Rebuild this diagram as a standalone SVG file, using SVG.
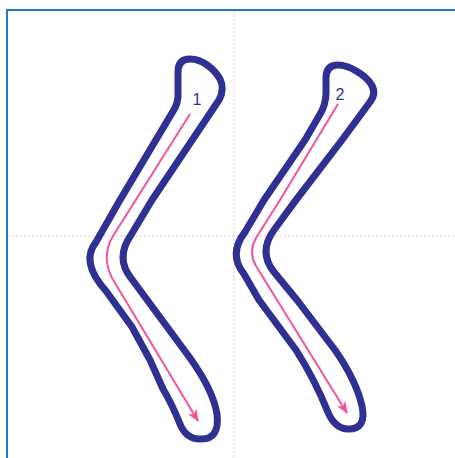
<svg xmlns="http://www.w3.org/2000/svg" width="455" height="458" viewBox="0 0 455 458">
<style>
.frame{fill:none;stroke:#1f7bc4;stroke-width:2}
.guide{fill:none;stroke:#f7b6cf;stroke-width:1;stroke-dasharray:2 2}
.outline{fill:none;stroke:#2e3192;stroke-width:7;stroke-linejoin:round}
.flow{fill:none;stroke:#f0559c;stroke-width:2;marker-end:url(#arrow)}
.num{font-family:"Liberation Sans",Arial,sans-serif;font-size:16px;fill:#2e3192;text-anchor:middle}
</style>
<defs>
<marker id="arrow" viewBox="0 0 12 10" refX="11" refY="5" markerWidth="12" markerHeight="10" markerUnits="userSpaceOnUse" orient="auto">
<path d="M0,0 L12,5 L0,10 L3,5 Z" fill="#f0559c"/>
</marker>
</defs>
<rect width="455" height="458" fill="#ffffff"/>
<g id="guides">
<line class="guide" x1="234" y1="11" x2="234" y2="458"/>
<line class="guide" x1="8" y1="236" x2="455" y2="236"/>
</g>
<path class="frame" d="M7 458 L7 10 L455 10"/>
<g id="stroke1">
<path class="outline" d="M190 59 C203 59 215 70 220 79 Q225 89 219 100 L152 200 L131 235 Q115 258 131 278 L190 358 Q213 390 217 414 Q220 440 200 439 Q186 439 180 424 Q172 404 163 389 L150 360 L132 327 L106 291 Q80 262 96 242 L120 200 L172 113 Q179 103 178 92 L178 72 Q178 59 190 59 Z"/>
<text class="num" x="197" y="105">1</text>
</g>
<g id="stroke2">
<path class="outline" d="M338 65 C350 65 366 76 371 84 Q377 93 370 102 L342 140 L296 200 L274 230 Q258 252 274 272 L297 300 L335 350 Q356 380 362 406 Q367 430 347 429 Q334 428 327 410 Q315 380 296 350 L259 300 L244 274 Q228 254 245 232 L264 200 L305 140 L319 116 Q326 105 326 93 L326 78 Q326 65 338 65 Z"/>
<text class="num" x="340" y="100">2</text>
</g>
<g id="connectors">
<path class="flow" d="M190 114 L113 236 Q101 256 112 278 L198 421"/>
<path class="flow" d="M338 104 L280 200 L256 238 Q248 252 256 266 L347 413"/>
</g>
</svg>
